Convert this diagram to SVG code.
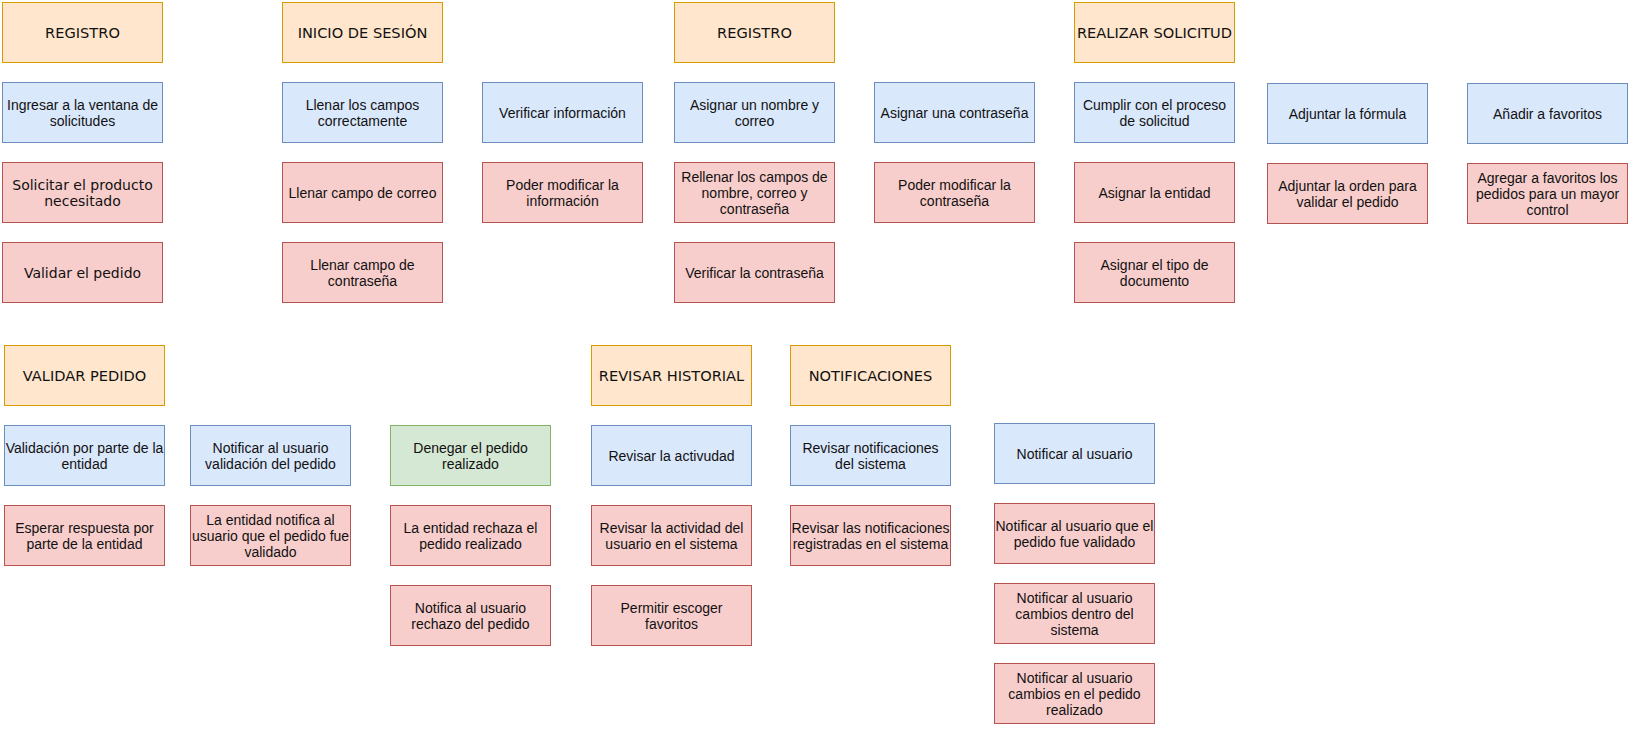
<svg xmlns="http://www.w3.org/2000/svg" width="1652" height="736" viewBox="0 0 1652 736">
<style>
rect{stroke-width:1}
.h{fill:#ffe6cc;stroke:#d79b00}
.b{fill:#dae8fc;stroke:#6c8ebf}
.r{fill:#f8cecc;stroke:#b85450}
.g{fill:#d5e8d4;stroke:#82b366}
text{font-family:"Liberation Sans",Arial,sans-serif;font-size:14px;fill:#111;text-anchor:middle}
text.v{font-family:"DejaVu Sans",Verdana,sans-serif;font-size:14px}
text.hv{font-family:"DejaVu Sans",Verdana,sans-serif;font-size:14.6px}
</style>
<rect x="0" y="0" width="1652" height="736" fill="#ffffff"/>
<g id="connectors"/>

<!-- Top band, column 1 -->
<g id="registro1"><rect class="h" x="2.5" y="2.5" width="160" height="60"/><text class="hv" x="82.5" y="38">REGISTRO</text></g>
<g id="ingresar"><rect class="b" x="2.5" y="82.5" width="160" height="60"/><text x="82.5" y="110">Ingresar a la ventana de</text><text x="82.5" y="126">solicitudes</text></g>
<g id="solicitar"><rect class="r" x="2.5" y="162.5" width="160" height="60"/><text class="v" x="82.5" y="190">Solicitar el producto</text><text class="v" x="82.5" y="206">necesitado</text></g>
<g id="validar-el-pedido"><rect class="r" x="2.5" y="242.5" width="160" height="60"/><text class="v" x="82.5" y="277.5">Validar el pedido</text></g>

<!-- Inicio de sesion -->
<g id="inicio-sesion"><rect class="h" x="282.5" y="2.5" width="160" height="60"/><text class="hv" x="362.5" y="38">INICIO DE SESIÓN</text></g>
<g id="llenar-campos"><rect class="b" x="282.5" y="82.5" width="160" height="60"/><text x="362.5" y="110">Llenar los campos</text><text x="362.5" y="126">correctamente</text></g>
<g id="llenar-correo"><rect class="r" x="282.5" y="162.5" width="160" height="60"/><text x="362.5" y="197.5">Llenar campo de correo</text></g>
<g id="llenar-contrasena"><rect class="r" x="282.5" y="242.5" width="160" height="60"/><text x="362.5" y="270">Llenar campo de</text><text x="362.5" y="286">contraseña</text></g>

<g id="verificar-info"><rect class="b" x="482.5" y="82.5" width="160" height="60"/><text x="562.5" y="117.5">Verificar información</text></g>
<g id="modificar-info"><rect class="r" x="482.5" y="162.5" width="160" height="60"/><text x="562.5" y="190">Poder modificar la</text><text x="562.5" y="206">información</text></g>

<!-- Registro 2 -->
<g id="registro2"><rect class="h" x="674.5" y="2.5" width="160" height="60"/><text class="hv" x="754.5" y="38">REGISTRO</text></g>
<g id="asignar-nombre"><rect class="b" x="674.5" y="82.5" width="160" height="60"/><text x="754.5" y="110">Asignar un nombre y</text><text x="754.5" y="126">correo</text></g>
<g id="rellenar"><rect class="r" x="674.5" y="162.5" width="160" height="60"/><text x="754.5" y="181.5">Rellenar los campos de</text><text x="754.5" y="197.5">nombre, correo y</text><text x="754.5" y="213.5">contraseña</text></g>
<g id="verificar-contrasena"><rect class="r" x="674.5" y="242.5" width="160" height="60"/><text x="754.5" y="277.5">Verificar la contraseña</text></g>

<g id="asignar-contrasena"><rect class="b" x="874.5" y="82.5" width="160" height="60"/><text x="954.5" y="117.5">Asignar una contraseña</text></g>
<g id="modificar-contrasena"><rect class="r" x="874.5" y="162.5" width="160" height="60"/><text x="954.5" y="190">Poder modificar la</text><text x="954.5" y="206">contraseña</text></g>

<!-- Realizar solicitud -->
<g id="realizar-solicitud"><rect class="h" x="1074.5" y="2.5" width="160" height="60"/><text class="hv" x="1154.5" y="38">REALIZAR SOLICITUD</text></g>
<g id="cumplir"><rect class="b" x="1074.5" y="82.5" width="160" height="60"/><text x="1154.5" y="110">Cumplir con el proceso</text><text x="1154.5" y="126">de solicitud</text></g>
<g id="asignar-entidad"><rect class="r" x="1074.5" y="162.5" width="160" height="60"/><text x="1154.5" y="197.5">Asignar la entidad</text></g>
<g id="asignar-tipo"><rect class="r" x="1074.5" y="242.5" width="160" height="60"/><text x="1154.5" y="270">Asignar el tipo de</text><text x="1154.5" y="286">documento</text></g>

<g id="adjuntar-formula"><rect class="b" x="1267.5" y="83.5" width="160" height="60"/><text x="1347.5" y="118.5">Adjuntar la fórmula</text></g>
<g id="adjuntar-orden"><rect class="r" x="1267.5" y="163.5" width="160" height="60"/><text x="1347.5" y="191">Adjuntar la orden para</text><text x="1347.5" y="207">validar el pedido</text></g>

<g id="anadir-favoritos"><rect class="b" x="1467.5" y="83.5" width="160" height="60"/><text x="1547.5" y="118.5">Añadir a favoritos</text></g>
<g id="agregar-favoritos"><rect class="r" x="1467.5" y="163.5" width="160" height="60"/><text x="1547.5" y="182.5">Agregar a favoritos los</text><text x="1547.5" y="198.5">pedidos para un mayor</text><text x="1547.5" y="214.5">control</text></g>

<!-- Bottom band: Validar pedido -->
<g id="validar-pedido"><rect class="h" x="4.5" y="345.5" width="160" height="60"/><text class="hv" x="84.5" y="381">VALIDAR PEDIDO</text></g>
<g id="validacion-entidad"><rect class="b" x="4.5" y="425.5" width="160" height="60"/><text x="84.5" y="453">Validación por parte de la</text><text x="84.5" y="469">entidad</text></g>
<g id="esperar-respuesta"><rect class="r" x="4.5" y="505.5" width="160" height="60"/><text x="84.5" y="533">Esperar respuesta por</text><text x="84.5" y="549">parte de la entidad</text></g>

<g id="notificar-validacion"><rect class="b" x="190.5" y="425.5" width="160" height="60"/><text x="270.5" y="453">Notificar al usuario</text><text x="270.5" y="469">validación del pedido</text></g>
<g id="entidad-notifica"><rect class="r" x="190.5" y="505.5" width="160" height="60"/><text x="270.5" y="524.5">La entidad notifica al</text><text x="270.5" y="540.5">usuario que el pedido fue</text><text x="270.5" y="556.5">validado</text></g>

<g id="denegar"><rect class="g" x="390.5" y="425.5" width="160" height="60"/><text x="470.5" y="453">Denegar el pedido</text><text x="470.5" y="469">realizado</text></g>
<g id="entidad-rechaza"><rect class="r" x="390.5" y="505.5" width="160" height="60"/><text x="470.5" y="533">La entidad rechaza el</text><text x="470.5" y="549">pedido realizado</text></g>
<g id="notifica-rechazo"><rect class="r" x="390.5" y="585.5" width="160" height="60"/><text x="470.5" y="613">Notifica al usuario</text><text x="470.5" y="629">rechazo del pedido</text></g>

<!-- Revisar historial -->
<g id="revisar-historial"><rect class="h" x="591.5" y="345.5" width="160" height="60"/><text class="hv" x="671.5" y="381">REVISAR HISTORIAL</text></g>
<g id="revisar-activudad"><rect class="b" x="591.5" y="425.5" width="160" height="60"/><text x="671.5" y="460.5">Revisar la activudad</text></g>
<g id="revisar-actividad-usuario"><rect class="r" x="591.5" y="505.5" width="160" height="60"/><text x="671.5" y="533">Revisar la actividad del</text><text x="671.5" y="549">usuario en el sistema</text></g>
<g id="permitir-favoritos"><rect class="r" x="591.5" y="585.5" width="160" height="60"/><text x="671.5" y="613">Permitir escoger</text><text x="671.5" y="629">favoritos</text></g>

<!-- Notificaciones -->
<g id="notificaciones"><rect class="h" x="790.5" y="345.5" width="160" height="60"/><text class="hv" x="870.5" y="381">NOTIFICACIONES</text></g>
<g id="revisar-notificaciones"><rect class="b" x="790.5" y="425.5" width="160" height="60"/><text x="870.5" y="453">Revisar notificaciones</text><text x="870.5" y="469">del sistema</text></g>
<g id="revisar-notif-registradas"><rect class="r" x="790.5" y="505.5" width="160" height="60"/><text x="870.5" y="533">Revisar las notificaciones</text><text x="870.5" y="549">registradas en el sistema</text></g>

<g id="notificar-usuario"><rect class="b" x="994.5" y="423.5" width="160" height="60"/><text x="1074.5" y="458.5">Notificar al usuario</text></g>
<g id="notificar-validado"><rect class="r" x="994.5" y="503.5" width="160" height="60"/><text x="1074.5" y="531">Notificar al usuario que el</text><text x="1074.5" y="547">pedido fue validado</text></g>
<g id="notificar-cambios-sistema"><rect class="r" x="994.5" y="583.5" width="160" height="60"/><text x="1074.5" y="602.5">Notificar al usuario</text><text x="1074.5" y="618.5">cambios dentro del</text><text x="1074.5" y="634.5">sistema</text></g>
<g id="notificar-cambios-pedido"><rect class="r" x="994.5" y="663.5" width="160" height="60"/><text x="1074.5" y="682.5">Notificar al usuario</text><text x="1074.5" y="698.5">cambios en el pedido</text><text x="1074.5" y="714.5">realizado</text></g>
</svg>
